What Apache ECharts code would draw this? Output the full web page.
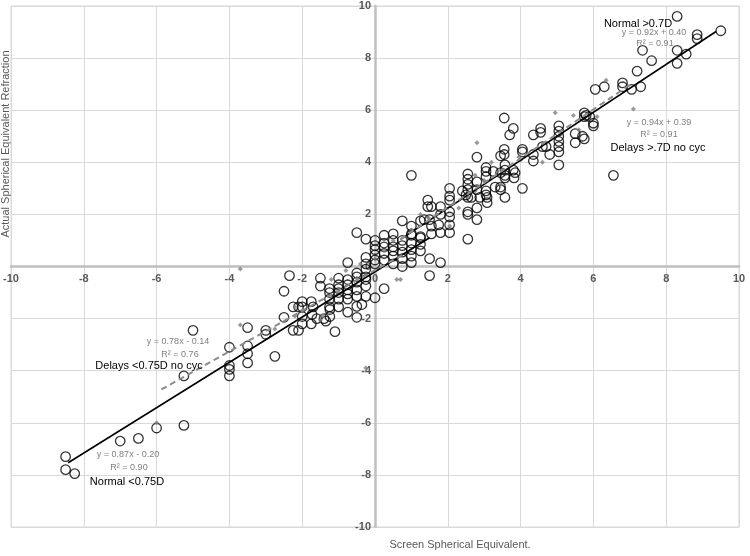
<!DOCTYPE html>
<html>
<head>
<meta charset="utf-8">
<script src="https://cdn.jsdelivr.net/npm/echarts@6/dist/echarts.min.js"></script>
<style>
html,body{margin:0;padding:0;background:#fff;}
#chart{width:750px;height:556px;}
</style>
</head>
<body>
<div id="chart"></div>
<script>
// ---- axis ticks ----
const xTicks = [-10,-8,-6,-4,-2,0,2,4,6,8,10];
const yTicks = [-10,-8,-6,-4,-2,0,2,4,6,8,10];

// ---- Normal (circles): [screen SE, actual SE] ----
const normalPoints = [
 [-8.5,-7.3],[-8.5,-7.8],[-8.25,-7.95],[-7.0,-6.7],[-6.5,-6.6],[-6.0,-6.2],[-5.25,-6.1],
 [-5.25,-4.2],[-5.0,-2.45],
 [-4.0,-3.1],[-4.0,-3.8],[-4.0,-3.95],[-4.0,-4.2],
 [-3.5,-2.35],[-3.5,-3.05],[-3.5,-3.35],[-3.5,-3.7],
 [-3.0,-2.45],[-3.0,-2.6],[-2.75,-3.45],
 [-2.5,-0.95],[-2.5,-1.95],[-2.35,-0.35],[-2.25,-1.55],[-2.25,-2.45],[-2.1,-1.55],[-2.1,-2.45],
 [-2.0,-1.35],[-2.0,-1.55],[-2.0,-2.2],[-2.0,-1.92],[-1.75,-1.35],[-1.7,-1.55],[-1.75,-2.2],[-1.73,-1.84],
 [-1.6,-2.0],[-1.4,-2.0],[-1.35,-2.1],[-1.1,-2.5],[-1.25,-1.55],[-1.24,-1.65],[-1.24,-1.92],[-1.0,-1.55],
 [-0.75,-1.75],[-0.5,-1.95],[-0.5,-1.53],[-0.36,-1.46],
 [-1.5,-0.45],[-1.5,-0.75],
 [-1.25,-0.85],[-1.25,-1.0],[-1.25,-1.25],
 [-1.0,-0.45],[-1.0,-0.7],[-1.0,-0.85],[-1.0,-1.0],[-1.0,-1.25],
 [-0.75,0.15],[-0.75,-0.5],[-0.75,-0.7],[-0.75,-0.9],[-0.75,-1.05],[-0.75,-1.25],
 [-0.5,1.3],[-0.5,-0.25],[-0.5,-0.4],[-0.5,-0.6],[-0.5,-0.9],[-0.5,-1.15],
 [-0.25,1.05],[-0.25,0.35],[-0.25,0.1],[-0.25,-0.1],[-0.25,-0.4],[-0.25,-0.5],[-0.25,-0.75],[-0.25,-1.15],
 [0.0,1.0],[0.0,0.8],[0.0,0.65],[0.0,0.45],[0.0,0.25],[0.0,0.1],[0.0,-1.2],
 [0.25,0.9],[0.25,0.75],[0.25,0.5],[0.25,0.25],[0.25,-0.85],[0.25,1.2],
 [0.5,0.75],[0.5,0.6],[0.5,0.4],[0.5,0.1],[0.5,1.25],[0.5,1.0],
 [0.75,1.75],[0.75,1.0],[0.75,0.8],[0.75,0.55],[0.75,0.3],[0.75,0.0],
 [1.0,1.2],[1.0,0.9],[1.0,0.65],[1.0,0.4],[1.0,0.15],[1.0,1.55],[1.0,1.25],[1.0,3.5],
 [1.25,1.75],[1.25,1.1],[1.25,0.85],[1.25,0.6],[1.25,1.15],[1.35,1.8],
 [1.5,1.8],[1.5,0.3],[1.5,-0.35],[1.45,2.55],[1.45,2.3],[1.55,2.3],[1.55,1.55],[1.55,1.25],
 [1.75,1.6],[1.8,2.3],[1.8,2.0],[1.8,1.3],[1.8,0.15],
 [2.05,3.0],[2.05,2.7],[2.05,2.55],[2.05,2.1],[2.05,1.9],[2.05,1.6],[2.05,1.3],
 [2.4,2.9],[2.5,2.75],[2.65,2.65],
 [2.55,3.55],[2.55,3.35],[2.55,3.15],[2.55,2.95],[2.55,2.65],[2.55,2.1],[2.55,2.0],[2.55,1.05],
 [2.8,3.25],[2.8,2.95],[2.8,2.25],[2.8,1.8],[2.8,4.2],[2.88,2.65],
 [3.05,3.8],[3.05,3.65],[3.05,3.45],[3.05,2.9],[3.05,2.75],[3.08,2.65],[3.08,2.45],
 [3.25,3.65],[3.3,3.05],
 [3.45,3.6],[3.45,3.05],[3.45,2.95],[3.45,4.25],
 [3.55,5.7],[3.55,4.5],[3.55,4.3],[3.57,3.9],[3.57,3.7],[3.57,3.5],[3.57,3.4],[3.57,2.65],
 [3.8,3.7],[3.85,3.6],[3.82,3.4],[3.8,5.3],[3.7,5.05],
 [4.05,4.5],[4.05,4.4],[4.05,3.0],
 [4.35,4.3],[4.35,4.05],[4.35,5.05],
 [4.55,5.3],[4.55,5.15],[4.6,4.6],[4.7,4.6],[4.8,4.3],
 [5.05,5.4],[5.05,5.2],[5.05,5.0],[5.05,4.8],[5.05,4.6],[5.05,4.4],[5.05,3.9],
 [5.5,5.1],[5.5,4.75],[5.7,5.0],[5.75,4.9],[5.75,5.9],[5.75,5.75],[5.8,5.8],[5.9,5.75],
 [6.0,5.5],[6.0,5.4],[6.05,6.8],[6.3,6.9],[6.55,3.5],
 [6.8,7.05],[6.8,6.9],[7.05,6.8],[7.3,6.9],[7.2,7.5],[7.35,8.3],[7.6,7.9],
 [8.3,9.6],[8.3,8.3],[8.3,7.8],[8.55,8.15],[8.85,8.9],[8.85,8.75],[9.5,9.05]
];

// ---- Delays (grey diamonds) ----
const delayPoints = [
 [-6.0,-6.0],[-3.7,-0.1],[-3.7,-2.25],[-2.2,-1.55],[-2.2,-1.9],[-1.45,-1.9],[-1.5,-2.05],
 [-1.2,-0.5],[-0.8,-0.15],[-0.25,-3.9],[0.6,-0.5],[0.7,-0.5],
 [2.05,1.55],[2.3,2.25],[2.8,4.75],[3.2,4.0],[3.45,3.15],[3.95,4.2],[4.6,4.0],
 [4.95,5.9],[5.45,5.8],[5.6,5.25],[6.1,5.75],[6.35,7.15],[7.1,6.05],
 [0.25,0.6],[0.5,1.0],[1.0,1.4],[1.46,1.88],[2.55,2.7],[2.75,2.9],[3.0,3.3],[3.5,3.7],
 [4.0,4.1],[-0.5,-0.45],[-1.0,-1.0],[-2.0,-1.7],[-2.75,-2.4],[1.25,2.0],[2.75,3.5],[-0.4,0.1],[0.0,0.3]
];

// ---- Trendlines (from the chart's equations) ----
const trendNames     = ['Normal <0.75D','Delays <0.75D no cyc','Normal >0.7D','Delays >.7D no cyc'];
const trendSlope     = [0.87, 0.78, 0.92, 0.94];
const trendIntercept = [-0.20, -0.14, 0.40, 0.39];
const trendXFrom     = [1.5, 0.75, 0.7, 0.7];
const trendXTo       = [-8.43, -5.96, 9.37, 7.0];
const trendR2        = ['0.90','0.76','0.91','0.91'];

const FONT = '"Liberation Sans", Arial, sans-serif';
const trendStyles = [
  {color:'#000000', width:1.6, type:'solid'},
  {color:'#8c8c8c', width:2, type:[6,4]},
  {color:'#000000', width:1.6, type:'solid'},
  {color:'#8c8c8c', width:2, type:[6,4]}
];

const trendSeries = trendNames.map((name,i)=>{
  const m = trendSlope[i], b = trendIntercept[i];
  const x1 = trendXFrom[i], x2 = trendXTo[i];
  return {
    type:'scatter', name:name, data:[], z:5,
    markLine:{
      silent:true, animation:false, z:5,
      symbol:['none','arrow'], symbolSize:[0,8],
      label:{show:false},
      lineStyle:trendStyles[i],
      emphasis:{disabled:true},
      data:[[{coord:[x1, m*x1+b]},{coord:[x2, m*x2+b]}]]
    }
  };
});

function eqText(i){
  const b = trendIntercept[i];
  return 'y = ' + trendSlope[i].toFixed(2) + 'x ' + (b<0?'- ':'+ ') + Math.abs(b).toFixed(2);
}

const annos = [
  ['Normal >0.7D', 638, 24, 'name'],
  [eqText(2), 654, 33, 'eq'],
  ['R\u00b2 = ' + trendR2[2], 655, 44, 'eq'],
  [eqText(3), 659, 123, 'eq'],
  ['R\u00b2 = ' + trendR2[3], 659, 135, 'eq'],
  ['Delays >.7D no cyc', 658, 148, 'name'],
  [eqText(1), 178, 342, 'eq'],
  ['R\u00b2 = ' + trendR2[1], 180, 355, 'eq'],
  ['Delays <0.75D no cyc', 149, 366, 'name'],
  [eqText(0), 128, 455, 'eq'],
  ['R\u00b2 = ' + trendR2[0], 129, 468, 'eq'],
  ['Normal <0.75D', 127, 482, 'name']
];

const graphics = annos.map(a=>({
  type:'text', z:100,
  style:{
    text:a[0], x:a[1], y:a[2], textAlign:'center', textVerticalAlign:'middle',
    fill: a[3]==='name' ? '#000000' : '#808080',
    font: (a[3]==='name' ? '11px ' : '9px ') + FONT
  }
}));
graphics.push({
  type:'text', z:100, rotation:Math.PI/2, x:6, y:144,
  style:{text:'Actual Spherical Equivalent Refraction', textAlign:'center', textVerticalAlign:'middle',
         fill:'#595959', font:'11px ' + FONT}
});
graphics.push({
  type:'text', z:100,
  style:{text:'Screen Spherical Equivalent.', x:460, y:545, textAlign:'center', textVerticalAlign:'middle',
         fill:'#595959', font:'11px ' + FONT}
});

const W = 750, H = 556;
const G = {left:11, right:11, top:6, bottom:29};
const plotW = W - G.left - G.right, plotH = H - G.top - G.bottom;

const chart = echarts.init(document.getElementById('chart'), null, {renderer:'canvas'});
const axisCommon = {
  type:'value', interval:2,
  axisLine:{onZero:false, lineStyle:{color:'#bfbfbf', width:2.5}},
  axisTick:{show:false},
  splitLine:{show:true, lineStyle:{color:'#d9d9d9', width:1}},
  axisLabel:{color:'#595959', fontWeight:'bold', fontSize:11, fontFamily:FONT}
};
chart.setOption({
  animation:false,
  backgroundColor:'#ffffff',
  grid:Object.assign({show:true, borderColor:'#d9d9d9', borderWidth:1, containLabel:false}, G),
  xAxis:Object.assign({}, axisCommon, {
    min:xTicks[0], max:xTicks[xTicks.length-1],
    position:'bottom', offset:-plotH/2,
    axisLabel:Object.assign({}, axisCommon.axisLabel, {margin:7})
  }),
  yAxis:Object.assign({}, axisCommon, {
    min:yTicks[0], max:yTicks[yTicks.length-1],
    position:'left', offset:-plotW/2,
    axisLabel:Object.assign({}, axisCommon.axisLabel, {margin:4})
  }),
  series:[
    {
      type:'scatter', name:'Normal', data:normalPoints, z:3,
      symbol:'circle', symbolSize:9.5,
      itemStyle:{color:'rgba(255,255,255,0)', borderColor:'#000000', borderWidth:1.3},
      emphasis:{disabled:true}
    },
    {
      type:'scatter', name:'Delays', data:delayPoints, z:4,
      symbol:'diamond', symbolSize:5,
      itemStyle:{color:'#808080'},
      emphasis:{disabled:true}
    }
  ].concat(trendSeries),
  graphic:graphics
});
</script>
</body>
</html>
